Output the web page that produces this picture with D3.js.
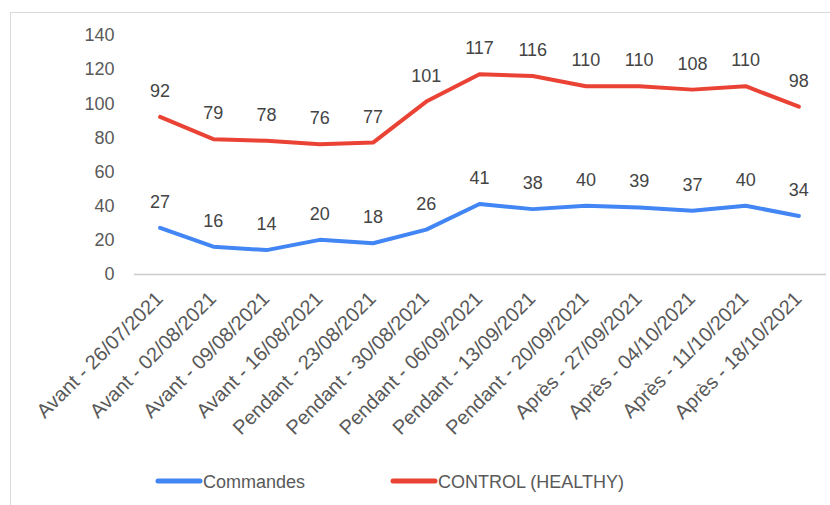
<!DOCTYPE html>
<html>
<head>
<meta charset="utf-8">
<script src="https://cdn.jsdelivr.net/npm/d3@7"></script>
<style>
  body { margin: 0; background: #fff; }
  text { font-family: Arial, "Liberation Sans", sans-serif; }
</style>
</head>
<body>
<script>
const weeks = [
  'Avant - 26/07/2021', 'Avant - 02/08/2021', 'Avant - 09/08/2021', 'Avant - 16/08/2021',
  'Pendant - 23/08/2021', 'Pendant - 30/08/2021', 'Pendant - 06/09/2021', 'Pendant - 13/09/2021',
  'Pendant - 20/09/2021', 'Après - 27/09/2021', 'Après - 04/10/2021', 'Après - 11/10/2021',
  'Après - 18/10/2021'
];
const commandes = [27, 16, 14, 20, 18, 26, 41, 38, 40, 39, 37, 40, 34];
const control = [92, 79, 78, 76, 77, 101, 117, 116, 110, 110, 108, 110, 98];
const yTicks = [0, 20, 40, 60, 80, 100, 120, 140];
const seriesNames = ['Commandes', 'CONTROL (HEALTHY)'];

const svgWidth = 830;
const svgHeight = 505;
const margin = { left: 133.5, top: 35, right: 4.5, bottom: 231 };
const width = svgWidth - margin.left - margin.right;
const height = svgHeight - margin.top - margin.bottom;

const blue = '#4285f4';
const red = '#ea4335';

const root = d3.select('body').append('svg')
  .attr('width', svgWidth)
  .attr('height', svgHeight);

// outer frame
root.append('rect')
  .attr('x', 10.5)
  .attr('y', 12.5)
  .attr('width', 830)
  .attr('height', 510)
  .attr('fill', 'none')
  .attr('stroke', '#d9d9d9');

const svg = root.append('g')
  .attr('transform', `translate(${margin.left}, ${margin.top})`);

const xScale = d3.scaleBand()
  .domain(weeks)
  .range([0, width])
  .padding(0);

const yScale = d3.scaleLinear()
  .domain([0, 140])
  .range([height, 0]);

const cx = d => xScale(d) + xScale.bandwidth() / 2;

// y axis labels
const yAxis = d3.axisLeft(yScale).tickValues(yTicks).tickSize(0).tickPadding(19);
svg.append('g')
  .call(yAxis)
  .call(g => g.select('.domain').remove())
  .call(g => g.selectAll('text')
    .attr('fill', '#595959')
    .style('font-size', '18px'));

// x axis
const xAxis = d3.axisBottom(xScale).tickSize(0).tickPadding(0);
svg.append('g')
  .attr('transform', `translate(0, ${height})`)
  .call(xAxis)
  .call(g => g.select('.domain').attr('stroke', '#cccccc').attr('stroke-width', 1.5))
  .call(g => g.selectAll('text')
    .attr('fill', '#595959')
    .style('font-size', '20px')
    .attr('text-anchor', 'end')
    .attr('dy', 0)
    .attr('y', 0)
    .attr('transform', 'translate(4, 26) rotate(-45)'));

const line = d3.line()
  .x((d, i) => cx(weeks[i]))
  .y(d => yScale(d));

const series = [
  { name: seriesNames[0], values: commandes, color: blue },
  { name: seriesNames[1], values: control, color: red }
];

series.forEach((s) => {
  svg.append('path')
    .datum(s.values)
    .attr('fill', 'none')
    .attr('stroke', s.color)
    .attr('stroke-width', 4)
    .attr('stroke-linejoin', 'round')
    .attr('stroke-linecap', 'round')
    .attr('d', line);

  svg.append('g')
    .selectAll('text')
    .data(s.values)
    .enter()
    .append('text')
    .attr('x', (d, i) => cx(weeks[i]))
    .attr('y', d => yScale(d) - 20)
    .attr('text-anchor', 'middle')
    .attr('fill', '#444444')
    .style('font-size', '18px')
    .text(d => d);
});

// legend
const legend = root.append('g').attr('transform', 'translate(0, 481)');
const legendX = [158, 393];
series.forEach((s, i) => {
  legend.append('line')
    .attr('x1', legendX[i])
    .attr('x2', legendX[i] + 42)
    .attr('y1', 0)
    .attr('y2', 0)
    .attr('stroke', s.color)
    .attr('stroke-width', 5)
    .attr('stroke-linecap', 'round');
  legend.append('text')
    .attr('x', legendX[i] + 45)
    .attr('y', 6.5)
    .attr('fill', '#595959')
    .style('font-size', '18px')
    .text(s.name);
});
</script>
</body>
</html>
